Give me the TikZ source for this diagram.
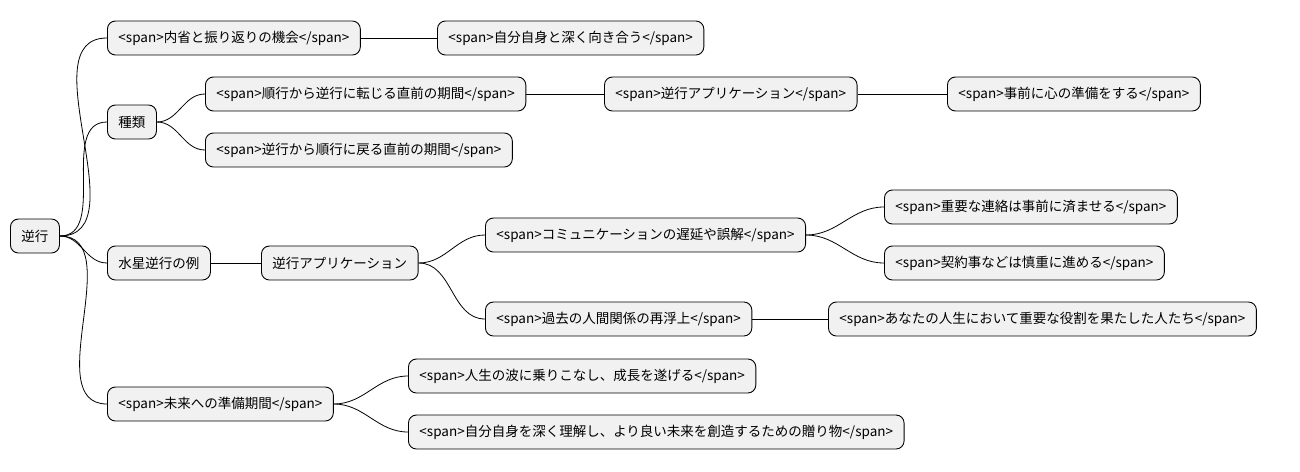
\documentclass[tikz,border=0pt]{standalone}
\usepackage{fontspec}
\setmainfont{Noto Sans CJK JP}
\usepackage{tikz}
\tikzstyle{topic} = [draw, fill={rgb,255:red,241;green,241;blue,241}, rounded corners=8pt, line width=0.9pt, anchor=west, minimum height=34pt, inner xsep=11pt, font=\fontsize{13.5pt}{16pt}\selectfont]
\tikzstyle{branch} = [line width=0.8pt]

\begin{document}
\begin{tikzpicture}[x=1pt, y=-1pt]
      \useasboundingbox (0, 0) rectangle (1300, 471);
      \node[topic] (root) at (10, 236) {逆行};

      \node[topic] (reflect) at (107, 38) {<span>内省と振り返りの機会</span>};
      \node[topic] (self) at (437, 38) {<span>自分自身と深く向き合う</span>};

      \node[topic] (kinds) at (107, 122) {種類};
      \node[topic] (toretro) at (205, 94) {<span>順行から逆行に転じる直前の期間</span>};
      \node[topic] (appspan) at (604, 94) {<span>逆行アプリケーション</span>};
      \node[topic] (prepare) at (947, 94) {<span>事前に心の準備をする</span>};
      \node[topic] (todirect) at (205, 150) {<span>逆行から順行に戻る直前の期間</span>};

      \node[topic] (mercury) at (107, 263) {水星逆行の例};
      \node[topic] (app) at (261, 263) {逆行アプリケーション};
      \node[topic] (comm) at (485, 235) {<span>コミュニケーションの遅延や誤解</span>};
      \node[topic] (contact) at (884, 207) {<span>重要な連絡は事前に済ませる</span>};
      \node[topic] (contract) at (884, 263) {<span>契約事などは慎重に進める</span>};
      \node[topic] (past) at (485, 319) {<span>過去の人間関係の再浮上</span>};
      \node[topic] (people) at (828, 319) {<span>あなたの人生において重要な役割を果たした人たち</span>};

      \node[topic] (future) at (107, 404) {<span>未来への準備期間</span>};
      \node[topic] (wave) at (408, 376) {<span>人生の波に乗りこなし、成長を遂げる</span>};
      \node[topic] (gift) at (408, 432) {<span>自分自身を深く理解し、より良い未来を創造するための贈り物</span>};

      \draw[branch] (root.east) to[out=0, in=180] (reflect.west);
      \draw[branch] (root.east) to[out=0, in=180] (kinds.west);
      \draw[branch] (root.east) to[out=0, in=180] (mercury.west);
      \draw[branch] (root.east) to[out=0, in=180] (future.west);
      \draw[branch] (reflect) -- (self);
      \draw[branch] (kinds.east) to[out=0, in=180] (toretro.west);
      \draw[branch] (kinds.east) to[out=0, in=180] (todirect.west);
      \draw[branch] (toretro) -- (appspan);
      \draw[branch] (appspan) -- (prepare);
      \draw[branch] (mercury) -- (app);
      \draw[branch] (app.east) to[out=0, in=180] (comm.west);
      \draw[branch] (app.east) to[out=0, in=180] (past.west);
      \draw[branch] (comm.east) to[out=0, in=180] (contact.west);
      \draw[branch] (comm.east) to[out=0, in=180] (contract.west);
      \draw[branch] (past) -- (people);
      \draw[branch] (future.east) to[out=0, in=180] (wave.west);
      \draw[branch] (future.east) to[out=0, in=180] (gift.west);
\end{tikzpicture}
\end{document}
